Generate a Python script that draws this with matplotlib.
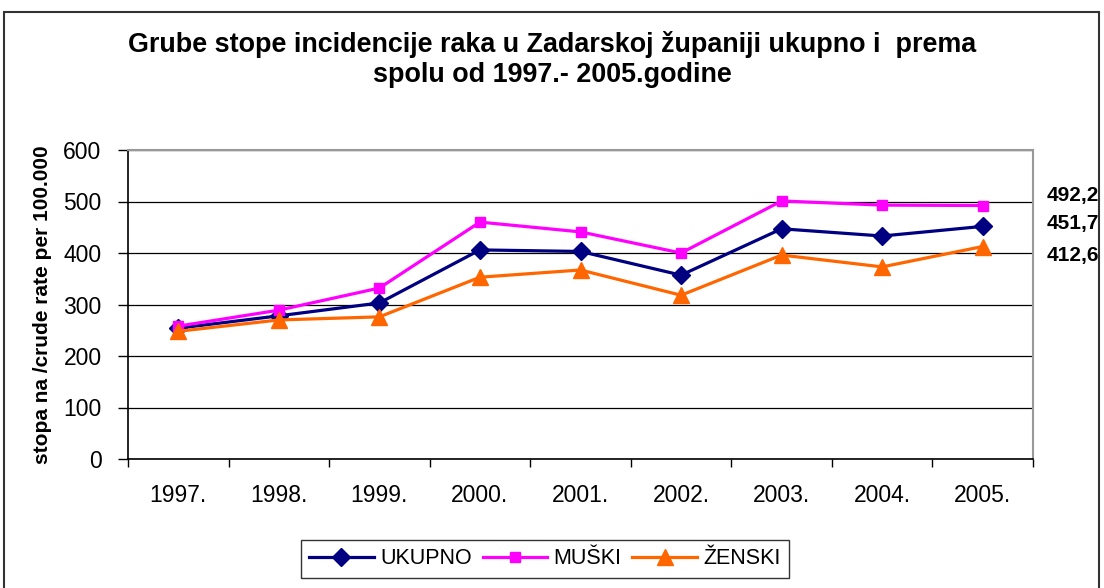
import matplotlib
matplotlib.use("Agg")
import matplotlib.pyplot as plt
from matplotlib.patches import Rectangle

# data
years = ["1997.", "1998.", "1999.", "2000.", "2001.", "2002.", "2003.", "2004.", "2005."]
ukupno = [254, 278, 303, 406, 403, 357, 447, 433, 451.7]
muski = [258, 289, 332, 460, 441, 400, 501, 493, 492.2]
zenski = [248, 270, 276, 353, 367, 318, 396, 373, 412.6]
end_labels = ["492,2", "451,7", "412,6"]

plt.rcParams["font.family"] = ["Liberation Sans", "DejaVu Sans"]

fig = plt.figure(figsize=(11.04, 5.88), dpi=100)
ax = fig.add_axes([128 / 1104, 1 - 459 / 588, (1033 - 128) / 1104, (459 - 150) / 588])

x = list(range(len(years)))
ax.plot(x, ukupno, color="#000080", lw=2.3, marker="D", ms=9, label="UKUPNO", zorder=3)
ax.plot(x, muski, color="#FF00FF", lw=2.3, marker="s", ms=7.5, label="MUŠKI", zorder=3)
ax.plot(x, zenski, color="#FF6600", lw=2.3, marker="^", ms=11, label="ŽENSKI", zorder=3)

ax.set_xlim(-0.5, len(years) - 0.5)
ax.set_ylim(0, 600)
ax.set_yticks(range(0, 601, 100))
# ticks between categories, labels centred under each point
ax.set_xticks([i - 0.5 for i in range(len(years) + 1)])
ax.set_xticklabels([])
ax.set_xticks(x, minor=True)
ax.set_xticklabels(years, minor=True, fontsize=16.5)
ax.tick_params(axis="x", which="minor", length=0, pad=18)
ax.tick_params(axis="x", which="major", length=6, width=1, direction="out")
ax.tick_params(axis="y", length=7, width=1, direction="out", labelsize=16.5, pad=12)

ax.yaxis.grid(True, color="black", lw=0.9)
ax.set_axisbelow(True)
for s in ["top", "right"]:
    ax.spines[s].set_color("#999999")
    ax.spines[s].set_linewidth(1.5)
for s in ["left", "bottom"]:
    ax.spines[s].set_color("black")
    ax.spines[s].set_linewidth(1.2)

ax.set_ylabel("stopa na /crude rate per 100.000", fontsize=15, fontweight="bold", labelpad=8)

fig.text(0.5, 1 - 45 / 588, "Grube stope incidencije raka u Zadarskoj županiji ukupno i  prema",
         ha="center", va="center", fontsize=19.4, fontweight="bold")
fig.text(0.5, 1 - 75 / 588, "spolu od 1997.- 2005.godine",
         ha="center", va="center", fontsize=19.4, fontweight="bold")

# end value labels
for lab, ypix in zip(end_labels, [195, 224, 255]):
    fig.text(1099 / 1104, 1 - ypix / 588, lab, ha="right", va="center",
             fontsize=15, fontweight="bold")

leg = fig.legend(loc="center", bbox_to_anchor=(545 / 1104, 1 - 559 / 588), ncol=3,
                 fontsize=15.5, frameon=True, fancybox=False, edgecolor="black",
                 handlelength=3, columnspacing=0.5, handletextpad=0.3,
                 borderpad=0.4)
leg.get_frame().set_linewidth(1.0)

# outer chart frame
fig.patches.append(Rectangle((4 / 1104, -0.05), 1095 / 1104, 1.05 - 12 / 588,
                             transform=fig.transFigure, fill=False,
                             edgecolor="#333333", lw=1.5))

fig.savefig("out.png", dpi=100)
